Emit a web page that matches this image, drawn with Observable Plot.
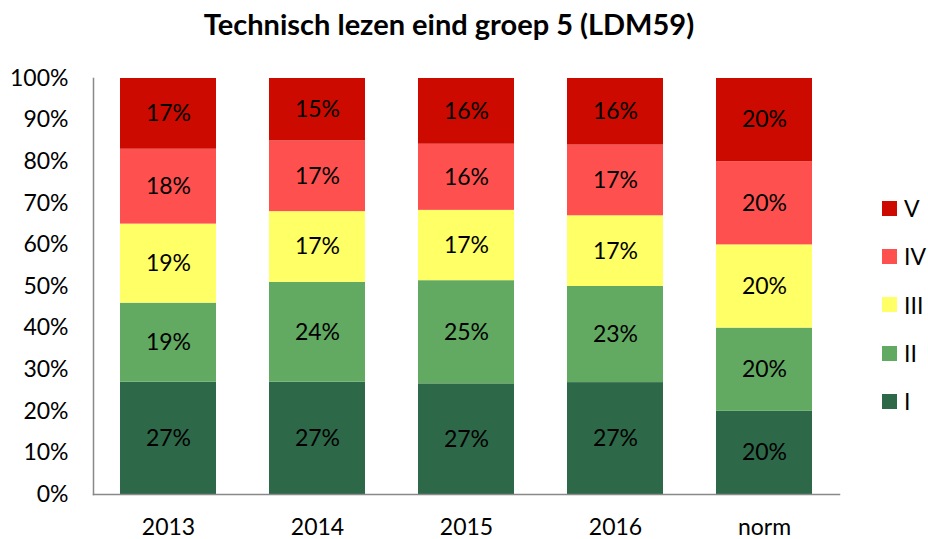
<!DOCTYPE html>
<html>
<head>
<meta charset="utf-8">
<script src="https://cdn.jsdelivr.net/npm/d3@7"></script>
<script src="https://cdn.jsdelivr.net/npm/@observablehq/plot@0.6"></script>
<style>
  body { margin: 0; background: #fff; }
  #wrap { position: relative; width: 928px; height: 539px; font-family: Lato, "Open Sans", sans-serif; }
  #title { position: absolute; top: 0; left: 0; width: 898px; height: 48px; line-height: 48px; text-align: center; font-weight: bold; font-size: 29px; color: #000; }
  #chart { position: absolute; top: 50px; left: 0; }
  #legend { position: absolute; left: 882px; top: 184px; font-size: 23px; }
  .item { height: 48.3px; display: flex; align-items: center; }
  .sw { width: 15px; height: 15px; margin-right: 7px; }
</style>
</head>
<body>
<div id="wrap">
  <div id="title">Technisch lezen eind groep 5 (LDM59)</div>
  <div id="chart"></div>
  <div id="legend"></div>
</div>
<script>
const categories = ["2013", "2014", "2015", "2016", "norm"];
const levels = ["I", "II", "III", "IV", "V"];
const valuesI   = [27, 27, 26.6, 26.9, 20];
const valuesII  = [19, 24, 24.8, 23.1, 20];
const valuesIII = [19, 17, 16.9, 17.0, 20];
const valuesIV  = [18, 17, 15.9, 17.0, 20];
const valuesV   = [17, 15, 15.8, 16.0, 20];
const colors = ["#2d6949", "#62aa62", "#ffff66", "#ff5050", "#cc0a00"];
const yTicks = [0, 10, 20, 30, 40, 50, 60, 70, 80, 90, 100];

const series = [valuesI, valuesII, valuesIII, valuesIV, valuesV];
const data = [];
levels.forEach((lv, i) => {
  categories.forEach((c, j) => data.push({ year: c, level: lv, value: series[i][j] }));
});

const chart = Plot.plot({
  width: 860,
  height: 489,
  marginLeft: 93,
  marginRight: 21,
  marginTop: 28,
  marginBottom: 45,
  style: { fontFamily: "Lato, 'Open Sans', sans-serif", fontSize: "23px", color: "#000", background: "#fff" },
  x: { domain: categories, paddingInner: 0.356, paddingOuter: 0.181, label: null },
  y: { domain: [0, 100], label: null },
  color: { domain: levels, range: colors },
  marks: [
    Plot.barY(data, Plot.stackY({ x: "year", y: "value", z: "level", fill: "level", order: null })),
    Plot.text(data, Plot.stackY({ x: "year", y: "value", z: "level", order: null, text: d => Math.round(d.value) + "%", fill: "#000", fontSize: 23 })),
    Plot.frame({ anchor: "left", stroke: "#898989", strokeWidth: 1.5 }),
    Plot.frame({ anchor: "bottom", stroke: "#898989", strokeWidth: 1.5 }),
    Plot.axisY({ ticks: yTicks, tickFormat: d => d + "%", tickSize: 0, tickPadding: 25, label: null, fontSize: 23 }),
    Plot.axisX({ tickSize: 0, tickPadding: 24, label: null, fontSize: 23 })
  ]
});
document.getElementById("chart").appendChild(chart);

const legend = document.getElementById("legend");
levels.slice().reverse().forEach((lv) => {
  const i = levels.indexOf(lv);
  const item = document.createElement("div");
  item.className = "item";
  const sw = document.createElement("div");
  sw.className = "sw";
  sw.style.background = colors[i];
  const lab = document.createElement("span");
  lab.textContent = lv;
  item.appendChild(sw);
  item.appendChild(lab);
  legend.appendChild(item);
});
</script>
</body>
</html>
